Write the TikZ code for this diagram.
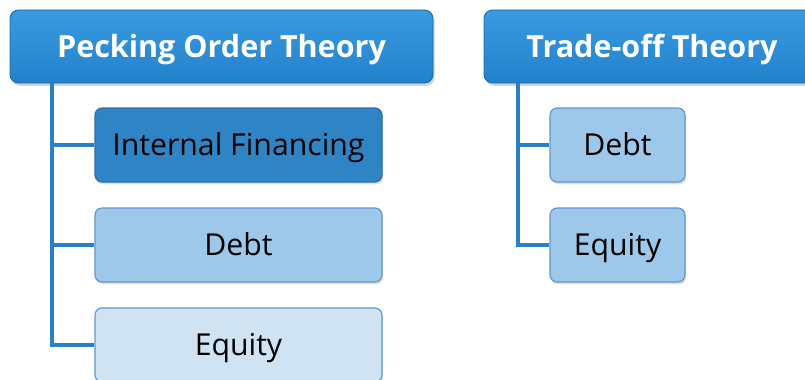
\documentclass[tikz,border=0pt]{standalone}
\usepackage{fontspec}
\setmainfont{Open Sans}
\usetikzlibrary{shadows}

\definecolor{headtop}{HTML}{3A9BE0}
\definecolor{headbot}{HTML}{2281CC}
\definecolor{linkblue}{HTML}{2A80C8}
\definecolor{darkfill}{HTML}{2F84C6}
\definecolor{darkedge}{HTML}{2A6FAE}
\definecolor{midfill}{HTML}{9DC8EA}
\definecolor{lightfill}{HTML}{D0E3F3}
\definecolor{boxedge}{HTML}{5E96CE}

\tikzset{
  theory/.style={rounded corners=6pt, top color=headtop, bottom color=headbot,
    draw=headbot!80!black, line width=0.6pt, text=white,
    font=\fontsize{21.7}{26}\selectfont\bfseries, text height=15.6pt, text depth=0pt,
    minimum height=1.825cm, drop shadow={opacity=0.35, shadow xshift=0.04cm, shadow yshift=-0.07cm}},
  choice/.style={rounded corners=5pt, draw=boxedge, line width=0.8pt, text=black,
    font=\fontsize{21.5}{26}\selectfont, text height=15.4pt, text depth=0pt,
    minimum height=1.85cm, drop shadow={opacity=0.25, shadow xshift=0.03cm, shadow yshift=-0.06cm}},
  link/.style={draw=linkblue, line width=2.8pt}
}

\begin{document}
\begin{tikzpicture}
    \useasboundingbox (0,0) rectangle (20.125,-9.5);
    % headers
    \node[theory, minimum width=10.575cm] (pot) at (5.5375,-1.1625) {Pecking Order Theory};
    \node[theory, minimum width=8.4cm] (tot) at (16.3,-1.1625) {Trade-off Theory};
    % pecking order choices
    \node[choice, fill=darkfill, draw=darkedge, minimum width=7.175cm] (intf) at (5.9625,-3.625) {Internal Financing};
    \node[choice, fill=midfill, minimum width=7.175cm] (debtA) at (5.9625,-6.125) {Debt};
    \node[choice, fill=lightfill, minimum width=7.175cm] (eqA) at (5.9625,-8.625) {Equity};
    % trade-off choices
    \node[choice, fill=midfill, minimum width=3.375cm] (debtB) at (15.4375,-3.625) {Debt};
    \node[choice, fill=midfill, minimum width=3.375cm] (eqB) at (15.4375,-6.125) {Equity};
    % links
    \draw[link] ([xshift=1.05cm]pot.south west) |- (intf.west);
    \draw[link] ([xshift=1.05cm]pot.south west) |- (debtA.west);
    \draw[link] ([xshift=1.05cm]pot.south west) |- (eqA.west);
    \draw[link] ([xshift=0.85cm]tot.south west) |- (debtB.west);
    \draw[link] ([xshift=0.85cm]tot.south west) |- (eqB.west);
\end{tikzpicture}
\end{document}
